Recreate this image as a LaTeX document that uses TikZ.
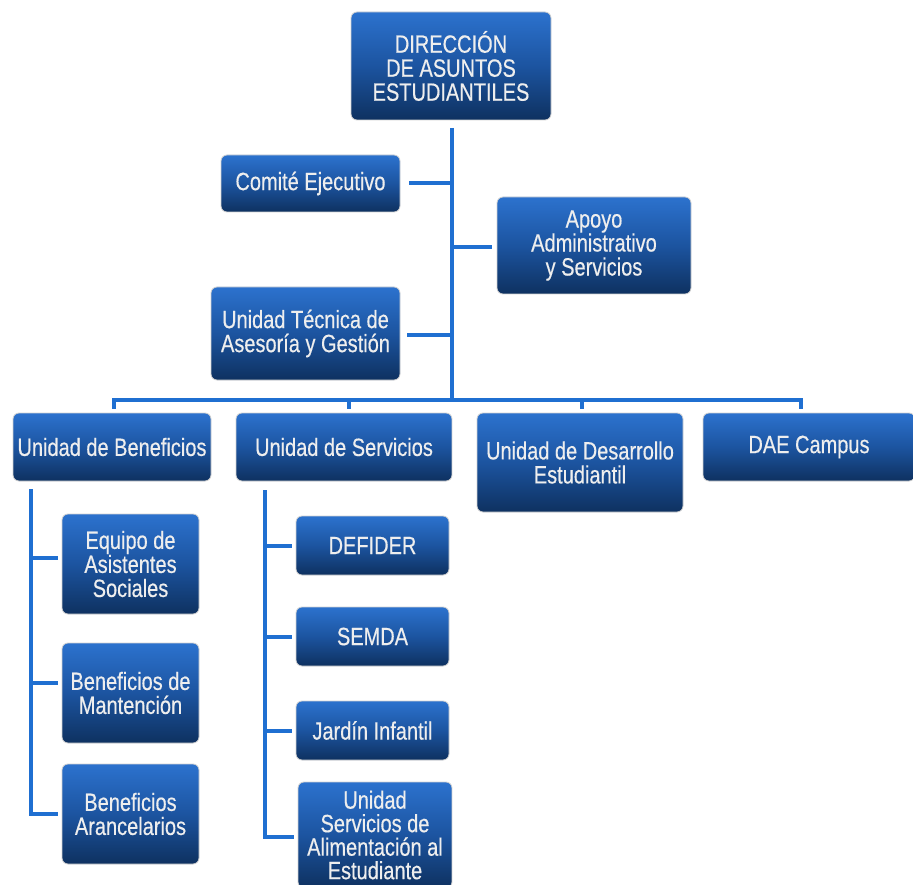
\documentclass[tikz,border=0pt]{standalone}
\usepackage{fontspec}
\setmainfont[FakeStretch=0.8,FakeBold=0.4]{Liberation Sans}
\usetikzlibrary{calc}
\definecolor{boxtop}{RGB}{44,114,206}
\definecolor{boxmid}{RGB}{28,84,160}
\definecolor{boxbot}{RGB}{14,49,96}
\definecolor{linec}{RGB}{31,111,209}
\definecolor{txt}{RGB}{238,238,238}
\begin{document}
\begin{tikzpicture}[x=1pt,y=-1pt,
  box/.style={rounded corners=6pt, draw=black!18, line width=0.8pt,
    top color=boxtop, bottom color=boxbot, middle color=boxmid,
    text=txt, align=center, inner sep=2pt,
    font=\fontsize{25}{24}\selectfont},
  conn/.style={draw=linec, line width=4pt}]
\useasboundingbox (0,0) rectangle (913,885);
% boxes
\node[box, minimum width=200pt, minimum height=108pt] (dir) at (451,66) {DIRECCIÓN\\DE ASUNTOS\\ESTUDIANTILES};
\node[box, minimum width=179pt, minimum height=57pt] (com) at (310.5,183.5) {Comité Ejecutivo};
\node[box, minimum width=194pt, minimum height=97pt] (apo) at (594,245.5) {Apoyo\\Administrativo\\y Servicios};
\node[box, minimum width=189pt, minimum height=93pt] (uta) at (305.5,333.5) {Unidad Técnica de\\Asesoría y Gestión};
\node[box, minimum width=198pt, minimum height=68pt] (ben) at (112,447) {Unidad de Beneficios};
\node[box, minimum width=216pt, minimum height=68pt] (ser) at (344,447) {Unidad de Servicios};
\node[box, minimum width=206pt, minimum height=99pt] (des) at (580,462.5) {Unidad de Desarrollo\\Estudiantil};
\node[box, minimum width=212pt, minimum height=68pt] (dae) at (809,447) {DAE Campus};
\node[box, minimum width=137pt, minimum height=100pt] (eas) at (130.5,564) {Equipo de\\Asistentes\\Sociales};
\node[box, minimum width=137pt, minimum height=100pt] (bma) at (130.5,693) {Beneficios de\\Mantención};
\node[box, minimum width=137pt, minimum height=100pt] (bar) at (130.5,814) {Beneficios\\Arancelarios};
\node[box, minimum width=153pt, minimum height=59pt] (def) at (372.5,545.5) {DEFIDER};
\node[box, minimum width=153pt, minimum height=59pt] (sem) at (372.5,636.5) {SEMDA};
\node[box, minimum width=153pt, minimum height=59pt] (jar) at (372.5,730.5) {Jardín Infantil};
\node[box, minimum width=154pt, minimum height=106pt, font=\fontsize{25}{23.5}\selectfont] (usa) at (375,835) {Unidad\\Servicios de\\Alimentación al\\Estudiante};
% trunk
\coordinate (t0) at (452,128);
\coordinate (t1) at (452,400);
\draw[conn] (t0) -- (t1);
\draw[conn] ([xshift=9pt]com.east) -- (com.east -| t0);
\draw[conn] ([yshift=-2pt]apo.west -| t0) -- ([xshift=-5pt,yshift=-2pt]apo.west);
\draw[conn] ([xshift=7pt,yshift=-2pt]uta.east) -- ([yshift=-2pt]uta.east -| t0);
% bus
\coordinate (b1) at (114,400);
\coordinate (b2) at (349,400);
\coordinate (b3) at (582,400);
\coordinate (b4) at (801,400);
\draw[conn, line cap=rect] (b1) -- (b4);
\draw[conn] (b1) -- ([yshift=4pt]b1 |- ben.north);
\draw[conn] (b2) -- ([yshift=4pt]b2 |- ser.north);
\draw[conn] (b3) -- ([yshift=4pt]b3 |- des.north);
\draw[conn] (b4) -- ([yshift=4pt]b4 |- dae.north);
% beneficios children
\coordinate (bv) at (31,489);
\draw[conn] (bv) -- (bv |- bar.west) -- ([xshift=-4pt]bar.west);
\draw[conn] ([yshift=6pt]eas.west -| bv) -- ([xshift=-4pt,yshift=6pt]eas.west);
\draw[conn] ([yshift=10pt]bma.west -| bv) -- ([xshift=-4pt,yshift=10pt]bma.west);
% servicios children
\coordinate (sv) at (265,490);
\draw[conn] (sv) -- ([yshift=-2pt]sv |- usa.west) -- ([xshift=-4pt,yshift=-2pt]usa.west);
\draw[conn] (def.west -| sv) -- ([xshift=-4pt]def.west);
\draw[conn] (sem.west -| sv) -- ([xshift=-4pt]sem.west);
\draw[conn] (jar.west -| sv) -- ([xshift=-4pt]jar.west);
\end{tikzpicture}
\end{document}
